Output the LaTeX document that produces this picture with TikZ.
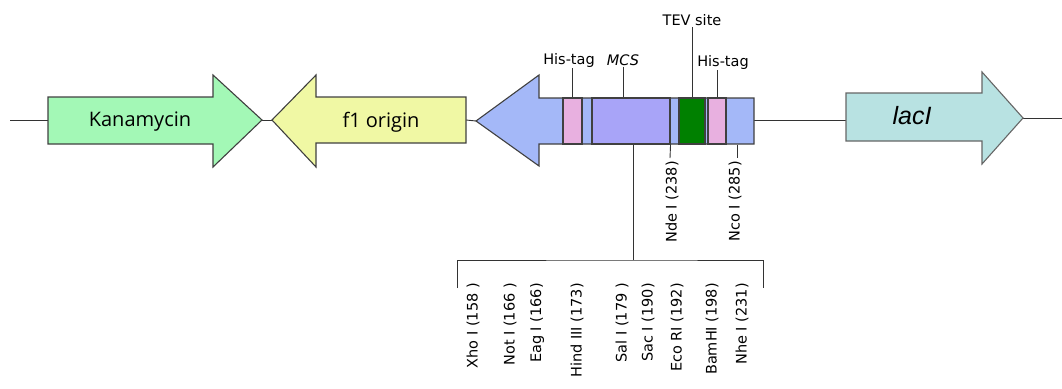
\documentclass[tikz,border=0pt]{standalone}
\usepackage{fontspec}
\setmainfont{Open Sans}
\newfontfamily\lacfont{Liberation Sans}
\newfontfamily\tagfont{DejaVu Sans}
\usetikzlibrary{positioning}

\definecolor{kanfill}{HTML}{A3F8B6}
\definecolor{orifill}{HTML}{F0F8A4}
\definecolor{vecfill}{HTML}{A4B8F8}
\definecolor{hisfill}{HTML}{E8B0E0}
\definecolor{mcsfill}{HTML}{A8A4F8}
\definecolor{tevfill}{HTML}{008000}
\definecolor{lacfill}{HTML}{B8E2E2}

\begin{document}
\begin{tikzpicture}[
    x=1pt, y=-1pt,
    part/.style={draw=black!75, line width=1.1pt, line join=miter},
    box/.style={part, inner sep=0pt, minimum height=46pt},
    tick/.style={draw=black!80, line width=0.9pt},
    lbl/.style={font=\tagfont\fontsize{14.5}{16}\selectfont, inner sep=1pt},
    site/.style={lbl, rotate=90, anchor=east},
    big/.style={font=\fontsize{20}{24}\selectfont}
  ]
  \useasboundingbox (0,0) rectangle (1062,388);

  % ══ BACKBONE ═══════════════════════════════════════════════════════════════
  \coordinate (left) at (10,120);
  \coordinate (kanL) at (48,120);
  \coordinate (kanT) at (262,120);
  \coordinate (oriT) at (272,120);
  \coordinate (oriR) at (466,120);
  \coordinate (vecT) at (476,121);
  \coordinate (vecR) at (754,120);
  \coordinate (lacL) at (846,118);
  \coordinate (lacT) at (1023,118);
  \coordinate (right) at (1062,118);
  \draw[tick] (left) -- (kanL);
  \draw[tick] (kanT) -- (oriT);
  \draw[tick] (oriR) -- (vecT);
  \draw[tick] (vecR) -- (lacL |- vecR);
  \draw[tick] (lacT) -- (right);

  % kanamycin
  \draw[part, fill=kanfill] (48,97) -- (213,97) -- (213,75) -- (kanT)
    -- (213,167) -- (213,144) -- (48,144) -- cycle;
  \node[big] (kan) at (140,122) {Kanamycin};

  % f1 origin
  \draw[part, fill=orifill] (466,97) -- (316,97) -- (316,75) -- (oriT)
    -- (316,167) -- (316,143) -- (466,143) -- cycle;
  \node[big] (ori) at (381,122) {f1 origin};

  % vector arrow with tags
  \draw[part, fill=vecfill] (754,98) -- (539,98) -- (539,75) -- (vecT)
    -- (539,166) -- (539,144) -- (754,144) -- cycle;
  \node[box, fill=hisfill, minimum width=19pt] (his1) at (572.5,121) {};
  \node[box, fill=mcsfill, minimum width=78pt] (mcs) at (631,121) {};
  \node[box, fill=tevfill, minimum width=26pt] (tev) at (692,121) {};
  \node[box, fill=hisfill, minimum width=18pt] (his2) at (717,121) {};

  % lacI
  \draw[part, draw=black!60, fill=lacfill] (846,93) -- (982,93) -- (982,72)
    -- (lacT) -- (982,164) -- (982,141) -- (846,141) -- cycle;
  \node[font=\lacfont\itshape\fontsize{25}{28}\selectfont] (lac) at (912,116) {lacI};

  % ══ LABELS ABOVE ═══════════════════════════════════════════════════════════
  \node[lbl] (his1lbl) at (569,60) {His-tag};
  \node[lbl] (mcslbl) at (623,60) {\itshape MCS};
  \node[lbl] (tevlbl) at (692,20) {TEV site};
  \node[lbl] (his2lbl) at (723,62) {His-tag};
  \draw[tick] (his1lbl.south -| his1.north) -- (his1.north);
  \draw[tick] (mcslbl.south) -- (mcslbl.south |- mcs.north);
  \draw[tick] (tevlbl.south) -- (tev.north);
  \draw[tick] (his2lbl.south -| his2.north) -- (his2.north);

  % ══ SITES BELOW ════════════════════════════════════════════════════════════
  \coordinate (ndeI) at (670,158);
  \coordinate (ncoI) at (737,158);
  \draw[tick] (mcs.south east) -- (ndeI);
  \draw[tick] (ncoI |- mcs.south) -- (ncoI);
  \node[site] (ndelbl) at (672,160) {Nde I (238)};
  \node[site] (ncolbl) at (735,160) {Nco I (285)};

  \coordinate (brk) at (633,260);
  \coordinate (brkL) at (457,288);
  \coordinate (brkR) at (763,288);
  \draw[tick] (brk |- mcs.south) -- (brk);
  \draw[tick] (brkL) |- (brk) -| (brkR);

  \node[site] (xho) at (473,282) {Xho I (158 )};
  \node[site] (not) at (510,282) {Not I (166 )};
  \node[site] (eag) at (537,282) {Eag I (166)};
  \node[site] (hind) at (577,282) {Hind III (173)};
  \node[site] (sal) at (622,282) {Sal I (179 )};
  \node[site] (sac) at (648,282) {Sac I (190)};
  \node[site] (eco) at (677,282) {Eco RI (192)};
  \node[site] (bam) at (712,282) {BamHI (198)};
  \node[site] (nhe) at (742,282) {Nhe I (231)};

\end{tikzpicture}
\end{document}
